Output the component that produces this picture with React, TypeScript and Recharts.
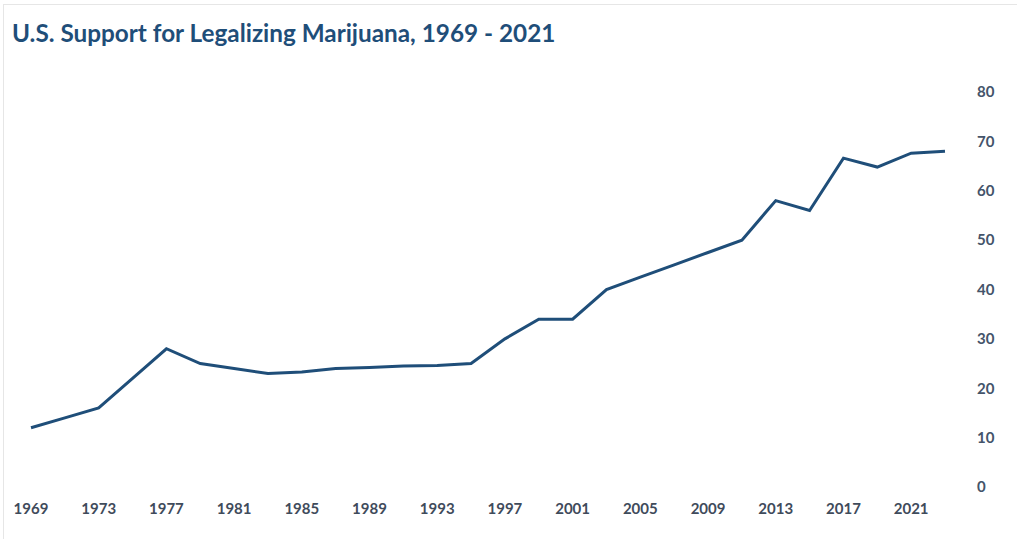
import React from "react";
import { LineChart, Line, XAxis, YAxis } from "recharts";

const years = [
  "1969", "1971", "1973", "1975", "1977", "1979", "1981", "1983", "1985", "1987",
  "1989", "1991", "1993", "1995", "1997", "1999", "2001", "2003", "2005", "2007",
  "2009", "2011", "2013", "2015", "2017", "2019", "2021", "2023",
];
const support = [
  12, 14, 16, 22, 28, 25, 24, 23, 23.3, 24,
  24.2, 24.5, 24.6, 25, 30, 34, 34, 40, 42.5, 45,
  47.5, 50, 58, 56, 66.6, 64.8, 67.6, 68,
];
const yTicks = [0, 10, 20, 30, 40, 50, 60, 70, 80];
const title = "U.S. Support for Legalizing Marijuana, 1969 - 2021";

const data = years.map((y, i) => ({ year: y, value: support[i] }));

const FONT = "Lato, 'Open Sans', sans-serif";

export default function App() {
  return (
    <div
      style={{
        position: "absolute",
        left: 0,
        top: 0,
        width: 1017,
        height: 539,
        background: "#ffffff",
        fontFamily: FONT,
      }}
    >
      <div
        style={{
          position: "absolute",
          left: 3,
          top: 4,
          width: 1014,
          height: 535,
          borderLeft: "1px solid #e6e6e6",
          borderTop: "1px solid #e6e6e6",
        }}
      />
      <div
        style={{
          position: "absolute",
          left: 12,
          top: 18,
          fontSize: 24.3,
          fontWeight: 700,
          color: "#1F4E79",
          fontFamily: FONT,
          whiteSpace: "nowrap",
          lineHeight: "30px",
        }}
      >
        {title}
      </div>
      <LineChart
        width={1017}
        height={539}
        data={data}
        margin={{ top: 92, right: 0, bottom: 22, left: 31 }}
        style={{ position: "absolute", left: 0, top: 0 }}
      >
        <XAxis
          dataKey="year"
          interval={1}
          axisLine={false}
          tickLine={false}
          tickSize={0}
          tickMargin={16}
          height={30}
          tick={{ fill: "#3F4B5B", fontSize: 15, fontWeight: 700, fontFamily: FONT }}
        />
        <YAxis
          orientation="right"
          domain={[0, 80]}
          ticks={yTicks}
          axisLine={false}
          tickLine={false}
          tickSize={0}
          tickMargin={32}
          width={72}
          tick={{ fill: "#44546A", fontSize: 15, fontWeight: 700, fontFamily: FONT }}
        />
        <Line
          type="linear"
          dataKey="value"
          stroke="#1F4E79"
          strokeWidth={3}
          dot={false}
          activeDot={false}
          isAnimationActive={false}
        />
      </LineChart>
    </div>
  );
}
